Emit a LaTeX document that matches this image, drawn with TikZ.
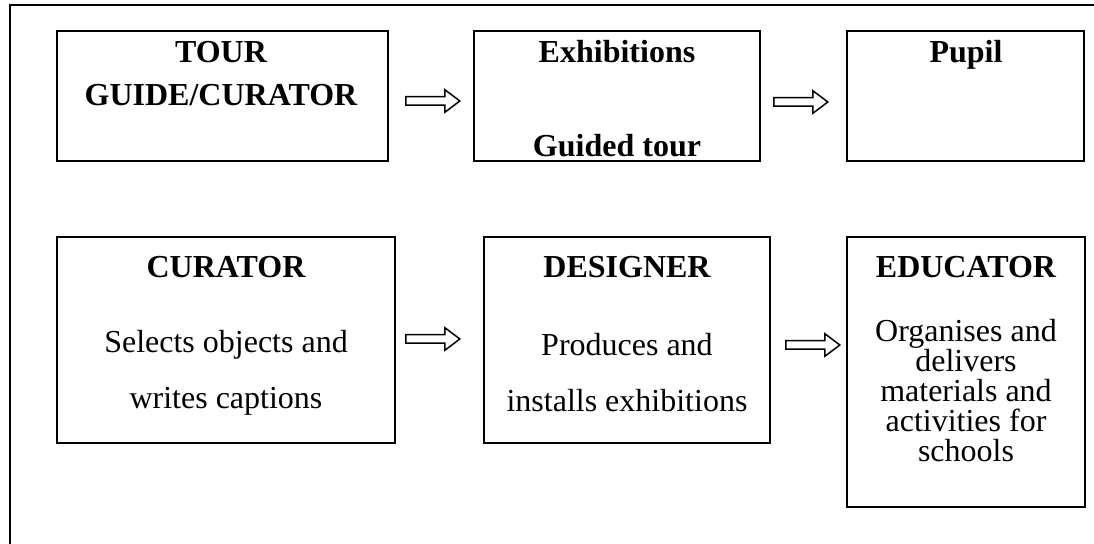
\documentclass[tikz,border=0pt]{standalone}
\usepackage{fontspec}
\setmainfont{Liberation Serif}
\usetikzlibrary{shapes.arrows}

\begin{document}
\begin{tikzpicture}[x=0.5pt,y=-0.5pt]
\tikzstyle{every node}+=[inner sep=0pt,font=\fontsize{16pt}{19pt}\selectfont]
\tikzstyle{box}=[draw=black,line width=0.75pt]
\tikzstyle{head}=[font=\fontsize{16pt}{19pt}\selectfont\bfseries,text height=10.6pt,text depth=0pt]
\tikzstyle{flow}=[draw=black,line width=0.75pt,single arrow,inner sep=1.75pt,
  single arrow head extend=3.5pt,single arrow tip angle=74,
  single arrow head indent=0pt,minimum height=27pt]
\useasboundingbox (0,0) rectangle (1094,544);
\draw [black,line width=1pt] (10,544) -- (10,5) -- (1094,5);
% upper row
\node [box,minimum width=165.5pt,minimum height=65pt] (guide) at (222.5,96) {};
\node [box,minimum width=143pt,minimum height=65pt] (exhib) at (617,96) {};
\node [box,minimum width=118.5pt,minimum height=65pt] (pupil) at (965.5,96) {};
\node [head] (guideA) at (221,52) {TOUR};
\node [head] (guideB) at (221,95) {GUIDE/CURATOR};
\node [head] (exhibA) at (617,52) {Exhibitions};
\node [head] (exhibB) at (617,146) {Guided tour};
\node [head] (pupilA) at (966,52) {Pupil};
\node [flow] (f1) at (430,101) {};
\node [flow] (f2) at (798,102) {};
% lower row
\node [box,minimum width=169pt,minimum height=103pt] (curator) at (226,340) {};
\node [box,minimum width=143pt,minimum height=103pt] (designer) at (627,340) {};
\node [box,minimum width=119pt,minimum height=135pt] (educator) at (966,372) {};
\node [head] (curatorA) at (226,267) {CURATOR};
\node [head] (designerA) at (627,267) {DESIGNER};
\node [head] (educatorA) at (966,267) {EDUCATOR};
\node [align=center,font=\fontsize{16pt}{28pt}\selectfont] (curatorB) at (226,373)
  {Selects objects and\\writes captions};
\node [align=center,font=\fontsize{16pt}{28pt}\selectfont] (designerB) at (627,373)
  {Produces and\\installs exhibitions};
\node [align=center,font=\fontsize{16pt}{15pt}\selectfont] (educatorB) at (966,391)
  {Organises and\\delivers\\materials and\\activities for\\schools};
\node [flow] (f3) at (430,339) {};
\node [flow] (f4) at (810,345) {};
\end{tikzpicture}
\end{document}
